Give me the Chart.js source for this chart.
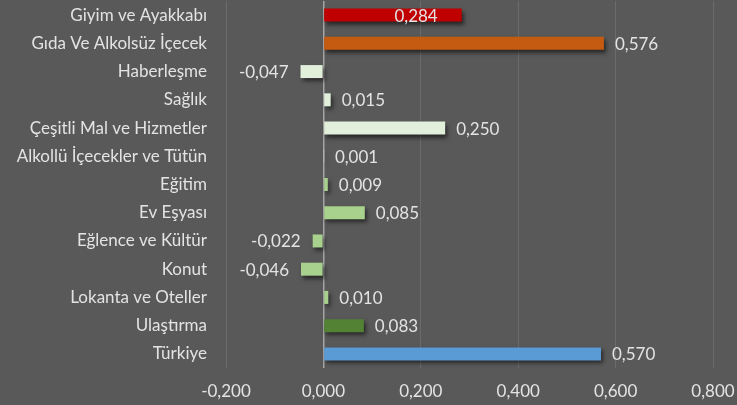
<!DOCTYPE html>
<html><head><meta charset="utf-8">
<script src="https://cdn.jsdelivr.net/npm/chart.js@4/dist/chart.umd.min.js"></script>
<style>
html,body{margin:0;padding:0;background:#595959;}
#wrap{width:737px;height:405px;position:relative;}
</style></head>
<body><div id="wrap"><canvas id="c" width="737" height="405"></canvas></div>
<script>
const categories = ["Giyim ve Ayakkabı","Gıda Ve Alkolsüz İçecek","Haberleşme","Sağlık","Çeşitli Mal ve Hizmetler","Alkollü İçecekler ve Tütün","Eğitim","Ev Eşyası","Eğlence ve Kültür","Konut","Lokanta ve Oteller","Ulaştırma","Türkiye"];
const values = [0.284,0.576,-0.047,0.015,0.250,0.001,0.009,0.085,-0.022,-0.046,0.010,0.083,0.570];
const barColors = ["#c00000","#c55a11","#e2efda","#e2efda","#e2efda","#e2efda","#a9d18e","#a9d18e","#a9d18e","#a9d18e","#a9d18e","#548235","#5b9bd5"];
const labelInside = [true,false,false,false,false,false,false,false,false,false,false,false,false];
const xTicks = [-0.2,0,0.2,0.4,0.6,0.8];

const fmt = v => v.toFixed(3).replace('.', ',');
const FONT = "Lato";
const FS = 17;
const TEXT = "#e3e3e3";

const shadowPlugin = {
  id:'shadow',
  beforeDatasetsDraw(chart){
    const ctx = chart.ctx; ctx.save();
    ctx.shadowColor='rgba(0,0,0,0.55)'; ctx.shadowBlur=4; ctx.shadowOffsetX=2; ctx.shadowOffsetY=3;
  },
  afterDatasetsDraw(chart){ chart.ctx.restore(); }
};
const labelPlugin = {
  id:'vlabels',
  afterDraw(chart){
    const ctx = chart.ctx; ctx.save();
    ctx.font = FS + "px " + FONT; ctx.fillStyle = TEXT; ctx.textBaseline='middle';
    chart.getDatasetMeta(0).data.forEach((el,i)=>{
      const v = values[i]; const t = fmt(v);
      if (labelInside[i]) { ctx.textAlign='right'; ctx.fillText(t, el.x-24, el.y+1); }
      else if (v >= 0) { ctx.textAlign='left'; ctx.fillText(t, el.x+11, el.y+1); }
      else { ctx.textAlign='right'; ctx.fillText(t, el.x-12, el.y+1); }
    });
    ctx.restore();
  }
};

new Chart(document.getElementById('c'), {
  type:'bar',
  data:{ labels: categories, datasets:[{ data: values, backgroundColor: barColors, borderWidth:0, categoryPercentage:1, barPercentage:0.46 }]},
  options:{
    indexAxis:'y', responsive:false, animation:false, devicePixelRatio:1,
    layout:{padding:{top:1,right:24,left:0,bottom:0}},
    plugins:{legend:{display:false}, tooltip:{enabled:false}},
    scales:{
      x:{ min:-0.2, max:0.8, afterBuildTicks: s => { s.ticks = xTicks.map(v=>({value:v})); },
          afterFit: s => { s.height = 37; s.paddingLeft = 0; s.paddingRight = 0; },
          grid:{ color: c => c.tick && c.tick.value===0 ? '#a6a6a6' : '#6b6b6b', lineWidth: c => c.tick && c.tick.value===0 ? 1.5 : 1, drawTicks:false },
          border:{display:false},
          ticks:{ color:TEXT, font:{family:FONT,size:FS}, padding:13, maxRotation:0, callback: v => fmt(v) } },
      y:{ afterFit: s => { s.width = 226; s.paddingTop = 0; s.paddingBottom = 0; },
          grid:{ display:false, drawTicks:false }, border:{display:false},
          ticks:{ color:TEXT, font:{family:FONT,size:FS}, padding:19, autoSkip:false } }
    }
  },
  plugins:[shadowPlugin, labelPlugin]
});
</script></body></html>
